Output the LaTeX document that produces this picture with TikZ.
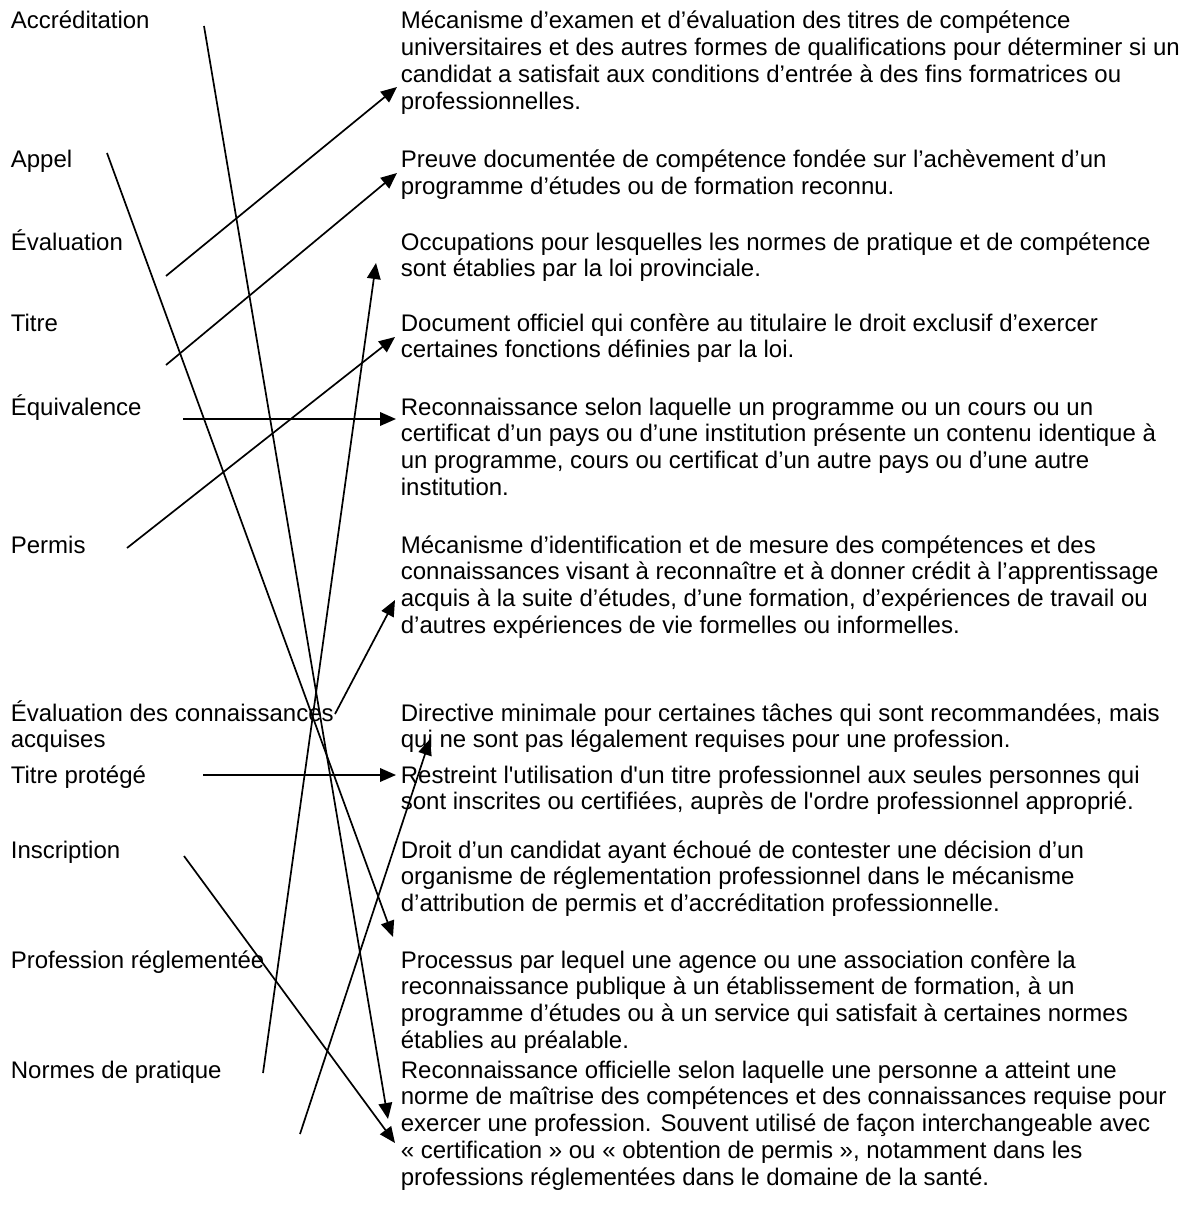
\documentclass[tikz,border=0pt]{standalone}
\usepackage{fontspec}
\setmainfont{Liberation Sans}[Ligatures=TeXOff]
\usetikzlibrary{arrows.meta}
\tikzset{
  term/.style={anchor=base west, inner sep=0pt, align=flush left, text width=190pt, font=\fontsize{12pt}{13.4pt}\selectfont},
  defn/.style={term, text width=420pt}
}
\begin{document}
\begin{tikzpicture}[x=0.5pt, y=-0.5pt, ->, >={Triangle[length=8pt, width=6.8pt]}, line width=0.85pt]
    \useasboundingbox (0,0) rectangle (1191,1220);
    % terms
    \node [term] (accr) at (10,29) {Accréditation};
    \node [term] (appel) at (10,168) {Appel};
    \node [term] (eval) at (10,250) {Évaluation};
    \node [term] (titre) at (10,331) {Titre};
    \node [term] (equiv) at (10,415) {Équivalence};
    \node [term] (permis) at (10,553) {Permis};
    \node [term] (eca) at (10,721) {Évaluation des connaissances\\acquises};
    \node [term] (tprot) at (10,783) {Titre protégé};
    \node [term] (inscr) at (10,858) {Inscription};
    \node [term] (prof) at (10,968) {Profession réglementée};
    \node [term] (normes) at (10,1078) {Normes de pratique};
    % definitions
    \node [defn] (dexamen) at (400,29) {Mécanisme d’examen et d’évaluation des titres de compétence\\universitaires et des autres formes de qualifications pour déterminer si un\\candidat a satisfait aux conditions d’entrée à des fins formatrices ou\\professionnelles.};
    \node [defn] (dpreuve) at (400,168) {Preuve documentée de compétence fondée sur l’achèvement d’un\\programme d’études ou de formation reconnu.};
    \node [defn] (doccup) at (400,250) {Occupations pour lesquelles les normes de pratique et de compétence\\sont établies par la loi provinciale.};
    \node [defn] (ddoc) at (400,331) {Document officiel qui confère au titulaire le droit exclusif d’exercer\\certaines fonctions définies par la loi.};
    \node [defn] (dequiv) at (400,415) {Reconnaissance selon laquelle un programme ou un cours ou un\\certificat d’un pays ou d’une institution présente un contenu identique à\\un programme, cours ou certificat d’un autre pays ou d’une autre\\institution.};
    \node [defn] (dident) at (400,553) {Mécanisme d’identification et de mesure des compétences et des\\connaissances visant à reconnaître et à donner crédit à l’apprentissage\\acquis à la suite d’études, d’une formation, d’expériences de travail ou\\d’autres expériences de vie formelles ou informelles.};
    \node [defn] (ddirect) at (400,721) {Directive minimale pour certaines tâches qui sont recommandées, mais\\qui ne sont pas légalement requises pour une profession.};
    \node [defn] (drestr) at (400,783) {Restreint l'utilisation d'un titre professionnel aux seules personnes qui\\sont inscrites ou certifiées, auprès de l'ordre professionnel approprié.};
    \node [defn] (ddroit) at (400,858) {Droit d’un candidat ayant échoué de contester une décision d’un\\organisme de réglementation professionnel dans le mécanisme\\d’attribution de permis et d’accréditation professionnelle.};
    \node [defn] (dproc) at (400,968) {Processus par lequel une agence ou une association confère la\\reconnaissance publique à un établissement de formation, à un\\programme d’études ou à un service qui satisfait à certaines normes\\établies au préalable.};
    \node [defn] (dreco) at (400,1078) {Reconnaissance officielle selon laquelle une personne a atteint une\\norme de maîtrise des compétences et des connaissances requise pour\\exercer une profession. Souvent utilisé de façon interchangeable avec\\« certification » ou « obtention de permis », notamment dans les\\professions réglementées dans le domaine de la santé.};
    % arrow ends
    \coordinate (accr-from) at (204,26);    \coordinate (accr-to) at (388,1119);
    \coordinate (appel-from) at (107,153);  \coordinate (appel-to) at (393,937);
    \coordinate (eval-from) at (166,276);   \coordinate (eval-to) at (397,87);
    \coordinate (titre-from) at (166,365);  \coordinate (titre-to) at (397,173);
    \coordinate (equiv-from) at (183,419);  \coordinate (equiv-to) at (396,419);
    \coordinate (permis-from) at (127,548); \coordinate (permis-to) at (395,337);
    \coordinate (eca-from) at (335,714);    \coordinate (eca-to) at (395,600);
    \coordinate (tprot-from) at (203,775);  \coordinate (tprot-to) at (396,775);
    \coordinate (inscr-from) at (184,856);  \coordinate (inscr-to) at (395,1143);
    \coordinate (prof-from) at (263,1073);  \coordinate (prof-to) at (376,263);
    \coordinate (normes-from) at (300,1134); \coordinate (normes-to) at (430,739);
    % arrows
    \path (accr-from) edge (accr-to);
    \path (appel-from) edge (appel-to);
    \path (eval-from) edge (eval-to);
    \path (titre-from) edge (titre-to);
    \path (equiv-from) edge (equiv-to);
    \path (permis-from) edge (permis-to);
    \path (eca-from) edge (eca-to);
    \path (tprot-from) edge (tprot-to);
    \path (inscr-from) edge (inscr-to);
    \path (prof-from) edge (prof-to);
    \path (normes-from) edge (normes-to);
\end{tikzpicture}
\end{document}
